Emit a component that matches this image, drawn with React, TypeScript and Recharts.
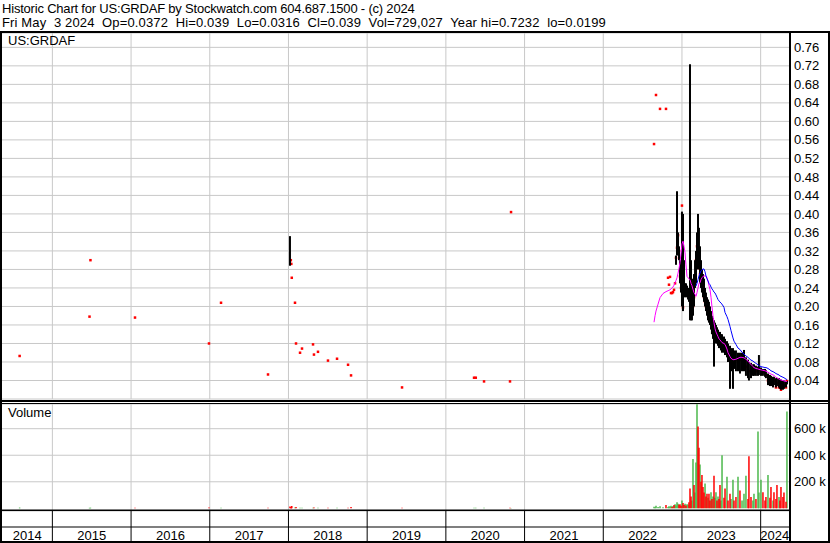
import React from 'react';
import {
  ComposedChart,
  Line,
  Scatter,
  ErrorBar,
  XAxis,
  YAxis,
  CartesianGrid,
  ReferenceLine,
} from 'recharts';

const FONT = '"Liberation Sans", Arial, Helvetica, sans-serif';

// ---- axes ----
const X_DOMAIN: [number, number] = [2014.36, 2024.36];
const PRICE_DOMAIN: [number, number] = [0, 0.791];
const VOLUME_DOMAIN: [number, number] = [-20, 786];
const priceTicks = [0.04, 0.08, 0.12, 0.16, 0.2, 0.24, 0.28, 0.32, 0.36, 0.4, 0.44, 0.48, 0.52, 0.56, 0.6, 0.64, 0.68, 0.72, 0.76];
const volumeTicks = [200, 400, 600];
const yearBoundaries = [2015, 2016, 2017, 2018, 2019, 2020, 2021, 2022, 2023, 2024];
const yearLabels = [2014, 2015, 2016, 2017, 2018, 2019, 2020, 2021, 2022, 2023, 2024];

const headerLine1 = 'Historic Chart for US:GRDAF by Stockwatch.com 604.687.1500 - (c) 2024';
const headerLine2 = 'Fri May  3 2024  Op=0.0372  Hi=0.039  Lo=0.0316  Cl=0.039  Vol=729,027  Year hi=0.7232  lo=0.0199';
const symbolLabel = 'US:GRDAF';
const volumeLabel = 'Volume';

// ---- sparse trades 2014 - 2020 (decimal years) ----
const earlyDates = [2014.584, 2015.472, 2015.484, 2016.05, 2016.99, 2017.143, 2017.74, 2018.019, 2018.03, 2018.036,
  2018.042, 2018.083, 2018.096, 2018.147, 2018.172, 2018.312, 2018.324, 2018.375, 2018.502, 2018.617,
  2018.757, 2018.795, 2019.443, 2020.358, 2020.38, 2020.485, 2020.815, 2020.828];
const earlyCloses = [0.093, 0.178, 0.3, 0.176, 0.12, 0.208, 0.053, null, 0.3, 0.292,
  0.262, 0.208, 0.12, 0.1, 0.109, 0.118, 0.096, 0.102, 0.083, 0.087,
  0.074, 0.051, 0.025, 0.046, 0.046, 0.038, 0.038, 0.404];
const earlyHighs = [null, null, null, null, null, null, null, 0.352, null, null,
  null, null, null, null, null, null, null, null, null, null,
  null, null, null, null, null, null, null, null];
const earlyLows = [null, null, null, null, null, null, null, 0.288, null, null,
  null, null, null, null, null, null, null, null, null, null,
  null, null, null, null, null, null, null, null];
const earlyVolumes = [6, 4, 5, 4, 6, 5, 4, 14, 10, 12,
  18, 6, 10, 5, 5, 5, 6, 5, 4, 4,
  4, 10, 5, 5, 4, 4, 4, 3];
const earlyUp = [1, 1, 1, 0, 0, 1, 0, 0, 0, 0,
  0, 1, 0, 1, 1, 1, 0, 1, 0, 1,
  0, 0, 0, 1, 1, 1, 0, 1];

// ---- active trading Aug 2022 - May 2024 ----
const recentDates = [2022.645, 2022.658, 2022.67, 2022.696, 2022.721, 2022.759, 2022.797, 2022.823, 2022.835, 2022.848,
  2022.861, 2022.874, 2022.886, 2022.899, 2022.912, 2022.924, 2022.937, 2022.95, 2022.962, 2022.975,
  2022.988, 2023.0, 2023.013, 2023.026, 2023.039, 2023.051, 2023.064, 2023.077, 2023.089, 2023.102,
  2023.115, 2023.127, 2023.14, 2023.153, 2023.166, 2023.178, 2023.191, 2023.204, 2023.216, 2023.229,
  2023.242, 2023.254, 2023.267, 2023.28, 2023.293, 2023.305, 2023.318, 2023.331, 2023.343, 2023.356,
  2023.369, 2023.381, 2023.394, 2023.407, 2023.42, 2023.432, 2023.445, 2023.458, 2023.47, 2023.483,
  2023.496, 2023.509, 2023.534, 2023.547, 2023.572, 2023.585, 2023.61, 2023.623, 2023.648, 2023.661,
  2023.686, 2023.712, 2023.737, 2023.763, 2023.788, 2023.813, 2023.839, 2023.851, 2023.877, 2023.902,
  2023.915, 2023.94, 2023.966, 2023.978, 2024.004, 2024.029, 2024.055, 2024.067, 2024.093, 2024.118,
  2024.131, 2024.157, 2024.169, 2024.194, 2024.207, 2024.233, 2024.245, 2024.258, 2024.283, 2024.296,
  2024.322, 2024.334];
const recentHighs = [null, null, null, null, null, null, null, null, null, null,
  null, null, null, null, null, 0.31, 0.449, 0.36, 0.33, 0.3,
  0.27, 0.405, 0.4, 0.3, 0.25, 0.25, 0.245, 0.24, 0.235, 0.7232,
  0.3, 0.26, 0.25, 0.27, 0.3, 0.32, 0.36, 0.4, 0.37, 0.33,
  0.3, 0.28, 0.27, 0.26, 0.24, 0.23, 0.22, 0.215, 0.21, 0.2,
  0.19, 0.18, 0.175, 0.17, 0.165, 0.16, 0.155, 0.15, 0.145, 0.145,
  0.14, 0.14, 0.135, 0.13, 0.125, 0.12, 0.115, 0.11, 0.11, 0.105,
  0.105, 0.1, 0.1, 0.1, 0.106, 0.09, 0.085, 0.08, 0.078, 0.075,
  0.075, 0.072, 0.07, 0.095, 0.068, 0.065, 0.065, 0.062, 0.055, 0.052,
  0.05, 0.048, 0.048, 0.045, 0.045, 0.045, 0.042, 0.042, 0.04, 0.04,
  0.039, 0.039];
const recentLows = [null, null, null, null, null, null, null, null, null, null,
  null, null, null, null, null, 0.29, 0.31, 0.32, 0.3, 0.25,
  0.23, 0.2, 0.19, 0.22, 0.22, 0.22, 0.22, 0.215, 0.21, 0.17,
  0.17, 0.17, 0.18, 0.2, 0.24, 0.25, 0.28, 0.3, 0.28, 0.25,
  0.24, 0.23, 0.22, 0.21, 0.2, 0.19, 0.18, 0.17, 0.165, 0.16,
  0.15, 0.14, 0.13, 0.07, 0.125, 0.12, 0.12, 0.115, 0.11, 0.11,
  0.105, 0.1, 0.1, 0.095, 0.09, 0.08, 0.022, 0.06, 0.022, 0.065,
  0.06, 0.06, 0.055, 0.06, 0.06, 0.05, 0.045, 0.04, 0.045, 0.05,
  0.05, 0.05, 0.05, 0.052, 0.05, 0.05, 0.048, 0.045, 0.03, 0.028,
  0.028, 0.025, 0.03, 0.025, 0.028, 0.025, 0.022, 0.02, 0.02, 0.022,
  0.025, 0.0316];
const recentCloses = [0.551, null, 0.657, null, 0.627, null, 0.627, 0.262, 0.247, 0.264,
  0.229, 0.229, 0.231, 0.236, 0.25, 0.305, 0.327, 0.354, 0.32, 0.265,
  0.24, 0.418, 0.198, 0.23, 0.236, 0.232, 0.236, 0.225, 0.22, 0.215,
  0.175, 0.2, 0.2, 0.22, 0.25, 0.3, 0.33, 0.3, 0.283, 0.27,
  0.258, 0.258, 0.24, 0.22, 0.21, 0.2, 0.2, 0.19, 0.186, 0.175,
  0.17, 0.16, 0.15, 0.14, 0.14, 0.135, 0.13, 0.13, 0.125, 0.12,
  0.118, 0.12, 0.115, 0.11, 0.1, 0.095, 0.09, 0.085, 0.075, 0.08,
  0.085, 0.08, 0.085, 0.082, 0.085, 0.07, 0.065, 0.06, 0.06, 0.062,
  0.065, 0.06, 0.062, 0.065, 0.06, 0.058, 0.055, 0.052, 0.04, 0.035,
  0.04, 0.035, 0.04, 0.025, 0.035, 0.025, 0.028, 0.02, 0.027, 0.03,
  0.025, 0.039];
const recentMaShort = [0.166, 0.18, 0.19, 0.205, 0.219, 0.228, 0.232, 0.234, 0.235, 0.236,
  0.238, 0.24, 0.242, 0.246, 0.251, 0.256, 0.262, 0.272, 0.282, 0.295,
  0.315, 0.335, 0.341, 0.33, 0.316, 0.29, 0.265, 0.262, 0.26, 0.258,
  0.25, 0.245, 0.237, 0.23, 0.226, 0.222, 0.23, 0.24, 0.25, 0.251,
  0.258, 0.262, 0.265, 0.266, 0.266, 0.266, 0.262, 0.255, 0.245, 0.237,
  0.22, 0.2, 0.18, 0.165, 0.152, 0.145, 0.14, 0.135, 0.13, 0.128,
  0.125, 0.122, 0.12, 0.118, 0.108, 0.1, 0.092, 0.088, 0.085, 0.085,
  0.086, 0.088, 0.09, 0.09, 0.089, 0.086, 0.082, 0.079, 0.075, 0.07,
  0.068, 0.066, 0.065, 0.064, 0.063, 0.062, 0.061, 0.06, 0.058, 0.055,
  0.054, 0.052, 0.051, 0.047, 0.046, 0.043, 0.042, 0.041, 0.04, 0.039,
  0.038, 0.038];
const recentMaLong = [null, null, null, null, null, null, null, null, null, null,
  null, null, null, null, null, null, null, null, null, null,
  null, null, null, null, null, null, null, null, null, null,
  null, null, null, null, null, 0.244, 0.25, 0.258, 0.266, 0.272,
  0.277, 0.279, 0.281, 0.281, 0.275, 0.266, 0.26, 0.255, 0.25, 0.247,
  0.242, 0.238, 0.235, 0.231, 0.229, 0.225, 0.22, 0.215, 0.212, 0.21,
  0.207, 0.205, 0.198, 0.187, 0.178, 0.172, 0.157, 0.148, 0.132, 0.125,
  0.118, 0.11, 0.107, 0.101, 0.097, 0.093, 0.09, 0.088, 0.084, 0.082,
  0.08, 0.077, 0.074, 0.072, 0.07, 0.069, 0.068, 0.068, 0.066, 0.063,
  0.061, 0.059, 0.058, 0.055, 0.054, 0.052, 0.05, 0.049, 0.047, 0.046,
  0.043, 0.042];
const recentVolumes = [12, 8, 20, 10, 15, 8, 25, 10, 15, 12,
  20, 10, 18, 25, 30, 22, 45, 35, 28, 30,
  20, 60, 40, 25, 35, 22, 30, 28, 45, 150,
  90, 60, 372, 175, 120, 345, 785, 617, 457, 330,
  200, 252, 160, 120, 187, 90, 110, 80, 110, 60,
  122, 70, 90, 246, 80, 122, 60, 90, 70, 175,
  60, 400, 80, 150, 238, 60, 110, 70, 215, 60,
  85, 238, 135, 60, 110, 245, 70, 393, 85, 60,
  110, 70, 578, 120, 215, 122, 60, 85, 252, 80,
  160, 60, 122, 70, 175, 85, 60, 160, 85, 120,
  50, 729];
const recentUp = [1, 1, 1, 1, 1, 1, 0, 1, 1, 1,
  1, 0, 1, 0, 1, 1, 1, 1, 0, 0,
  0, 1, 0, 0, 1, 0, 1, 1, 0, 0,
  0, 1, 1, 0, 1, 1, 1, 0, 0, 1,
  0, 0, 0, 0, 1, 0, 0, 1, 0, 0,
  1, 0, 1, 0, 1, 1, 0, 1, 0, 0,
  1, 1, 0, 0, 1, 0, 0, 1, 1, 0,
  0, 1, 0, 1, 1, 1, 0, 0, 0, 1,
  1, 0, 1, 1, 1, 0, 0, 0, 1, 0,
  0, 1, 0, 0, 0, 1, 0, 0, 0, 0,
  0, 1];

type Row = {
  t: number;
  hi: number | null;
  lo: number | null;
  cl: number | null;
  ma1: number | null;
  ma2: number | null;
  vol: number;
  up: number;
};

const rows: Row[] = [
  ...earlyDates.map((t, i) => ({
    t, hi: earlyHighs[i], lo: earlyLows[i], cl: earlyCloses[i], ma1: null, ma2: null,
    vol: earlyVolumes[i], up: earlyUp[i],
  })),
  ...recentDates.map((t, i) => ({
    t, hi: recentHighs[i], lo: recentLows[i], cl: recentCloses[i], ma1: recentMaShort[i], ma2: recentMaLong[i],
    vol: recentVolumes[i], up: recentUp[i],
  })),
];

const closeRows = rows.filter((r) => r.cl != null);
const rangeRows = rows.filter((r) => r.hi != null && r.lo != null);
const upRows = rows.filter((r) => r.up === 1);
const downRows = rows.filter((r) => r.up === 0);

const yearLabelCenters = yearLabels.map(
  (y) => (Math.max(y, X_DOMAIN[0]) + Math.min(y + 1, X_DOMAIN[1])) / 2,
);
const xAxisTicks = [...yearLabelCenters, ...yearBoundaries].sort((a, b) => a - b);

const pick = (d: any) => (d && d.payload && d.payload.t != null ? d.payload : d);
const rangeError = (d: any) => {
  const p = pick(d);
  return [p.hi - p.lo, 0];
};
const volumeError = (d: any) => {
  const p = pick(d);
  return [p.vol, 0];
};

const Empty = () => <g />;
const RedSquare = (p: any) =>
  p.cx == null || isNaN(p.cx) ? <g /> : (
    <rect x={p.cx - 1.25} y={p.cy - 1.25} width={2.5} height={2.5} fill="#ff0000" />
  );

const YearTick = (props: any) => {
  const { x, y, payload } = props;
  const v = payload.value;
  if (Number.isInteger(v)) {
    return <line x1={x} x2={x} y1={y} y2={y + 32} stroke="#000" strokeWidth={1} />;
  }
  return (
    <text x={x} y={y + 29} textAnchor="middle" fontSize={13} fill="#000" fontFamily={FONT}>
      {Math.floor(v)}
    </text>
  );
};

const GRID = '#c8c8c8';

export default function App() {
  return (
    <div
      style={{
        position: 'absolute',
        left: 0,
        top: 0,
        width: 830,
        height: 543,
        background: '#fff',
        fontFamily: FONT,
        overflow: 'hidden',
      }}
    >
      <div style={{ position: 'absolute', left: 0, top: 0 }}>
        <ComposedChart
          width={830}
          height={401}
          data={rows}
          margin={{ top: 33, right: 0, bottom: 2, left: 2 }}
        >
          <CartesianGrid vertical={false} stroke={GRID} />
          {yearBoundaries.map((y) => (
            <ReferenceLine key={y} x={y} stroke={GRID} />
          ))}
          <XAxis type="number" dataKey="t" domain={X_DOMAIN} allowDataOverflow hide />
          <YAxis
            orientation="right"
            width={41}
            domain={PRICE_DOMAIN}
            allowDataOverflow
            ticks={priceTicks}
            interval={0}
            tickFormatter={(v: number) => v.toFixed(2)}
            axisLine={false}
            tickLine={false}
            tickSize={0}
            tickMargin={5}
            tick={{ fontSize: 13, fill: '#000', fontFamily: FONT }}
          />
          <Scatter data={closeRows} dataKey="cl" shape={RedSquare} isAnimationActive={false} {...{ zIndex: 500 }} />
          <Scatter data={rangeRows} dataKey="hi" shape={Empty} isAnimationActive={false} {...{ zIndex: 550 }}>
            <ErrorBar dataKey={rangeError} direction="y" width={0} stroke="#000" strokeWidth={2} isAnimationActive={false} {...{ zIndex: 650 }} />
          </Scatter>
          <Line type="linear" dataKey="ma1" stroke="#ff00ff" strokeWidth={1} dot={false} activeDot={false} isAnimationActive={false} {...{ zIndex: 700 }} />
          <Line type="linear" dataKey="ma2" stroke="#0000ff" strokeWidth={1} dot={false} activeDot={false} isAnimationActive={false} {...{ zIndex: 710 }} />
        </ComposedChart>
      </div>

      <div style={{ position: 'absolute', left: 0, top: 401 }}>
        <ComposedChart
          width={830}
          height={142}
          data={rows}
          margin={{ top: 3, right: 0, bottom: 0, left: 2 }}
        >
          <CartesianGrid vertical={false} stroke={GRID} />
          {yearBoundaries.map((y) => (
            <ReferenceLine key={y} x={y} stroke={GRID} />
          ))}
          <XAxis
            type="number"
            dataKey="t"
            domain={X_DOMAIN}
            allowDataOverflow
            height={32}
            ticks={xAxisTicks}
            interval={0}
            axisLine={false}
            tickLine={false}
            tickSize={0}
            tickMargin={0}
            tick={YearTick}
          />
          <YAxis
            orientation="right"
            width={41}
            domain={VOLUME_DOMAIN}
            allowDataOverflow
            ticks={volumeTicks}
            interval={0}
            tickFormatter={(v: number) => `${v} k`}
            axisLine={false}
            tickLine={false}
            tickSize={0}
            tickMargin={5}
            tick={{ fontSize: 13, fill: '#000', fontFamily: FONT }}
          />
          <Scatter data={upRows} dataKey="vol" shape={Empty} isAnimationActive={false}>
            <ErrorBar dataKey={volumeError} direction="y" width={0} stroke="#4cb84c" strokeWidth={1.5} isAnimationActive={false} />
          </Scatter>
          <Scatter data={downRows} dataKey="vol" shape={Empty} isAnimationActive={false}>
            <ErrorBar dataKey={volumeError} direction="y" width={0} stroke="#ff0000" strokeWidth={1.5} isAnimationActive={false} />
          </Scatter>
        </ComposedChart>
      </div>

      <svg
        width={830}
        height={543}
        style={{ position: 'absolute', left: 0, top: 0, pointerEvents: 'none' }}
      >
        <text x={2} y={13} fontSize={13} letterSpacing={-0.2} fill="#000" xmlSpace="preserve" style={{ whiteSpace: 'pre' }}>
          {headerLine1}
        </text>
        <text x={2} y={27} fontSize={13} letterSpacing={0.15} fill="#000" xmlSpace="preserve" style={{ whiteSpace: 'pre' }}>
          {headerLine2}
        </text>
        <text x={8} y={45} fontSize={13} fill="#000">{symbolLabel}</text>
        <text x={8} y={417} fontSize={13} fill="#000">{volumeLabel}</text>
        <rect x={0} y={31} width={830} height={2} fill="#000" />
        <rect x={0} y={31} width={2} height={512} fill="#000" />
        <rect x={828} y={31} width={2} height={512} fill="#000" />
        <rect x={789} y={31} width={2} height={512} fill="#000" />
        <rect x={0} y={400} width={830} height={2} fill="#000" />
        <rect x={0} y={403} width={830} height={1} fill="#000" />
        <rect x={0} y={509.5} width={791} height={1.5} fill="#000" />
        <rect x={0} y={526.5} width={791} height={1} fill="#000" />
        <rect x={0} y={541} width={830} height={2} fill="#000" />
      </svg>
    </div>
  );
}
